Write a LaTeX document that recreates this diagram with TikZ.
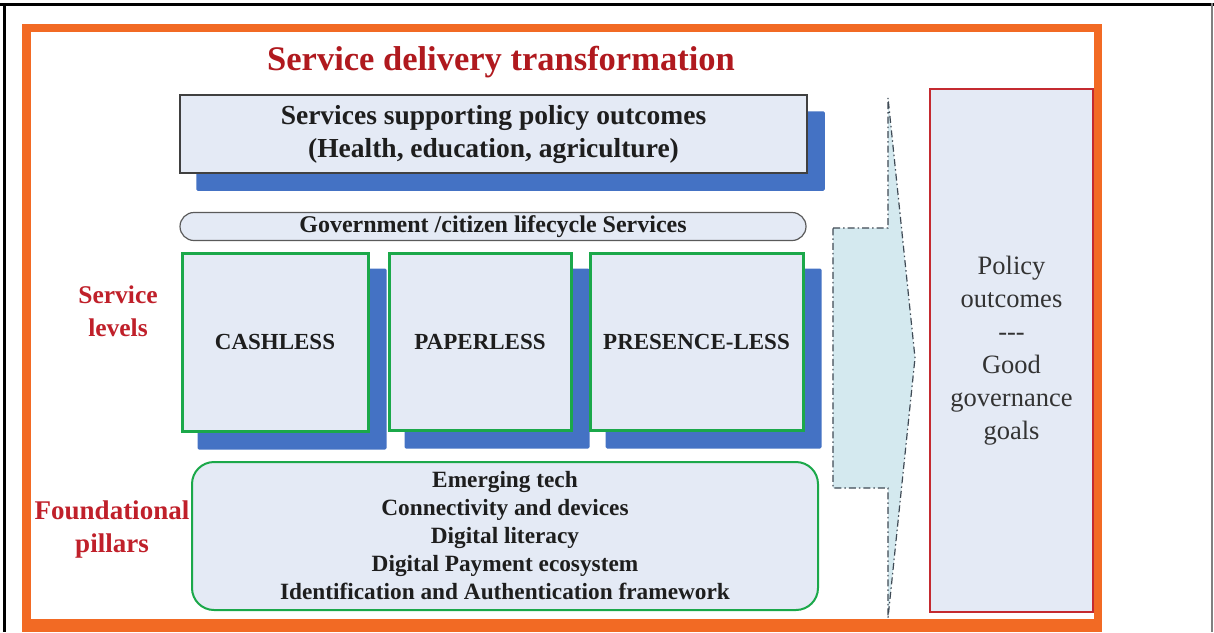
\documentclass[tikz,border=0pt]{standalone}
\usepackage{fontspec}
\setmainfont{Liberation Serif}
\definecolor{orng}{HTML}{F26A24}
\definecolor{boxfill}{HTML}{E4EAF5}
\definecolor{shblue}{HTML}{4472C4}
\definecolor{grn}{HTML}{1BA84A}
\definecolor{ttl}{HTML}{B0191E}
\definecolor{lbl}{HTML}{C0202A}
\definecolor{arrfill}{HTML}{D4E9EF}
\definecolor{arrline}{HTML}{3F4A55}
\definecolor{redb}{HTML}{C42A30}
\definecolor{txt}{HTML}{1E1E1E}
\definecolor{topline}{HTML}{404040}
\definecolor{pillline}{HTML}{5A5A5A}
\pgfdeclarelayer{back}
\pgfdeclarelayer{bg}
\pgfsetlayers{back,bg,main}
\tikzset{
  box/.style={fill=boxfill, inner sep=0pt, text=txt, align=center},
  lvlbox/.style={box, draw=grn, line width=3pt, font=\bfseries\fontsize{23}{28}\selectfont},
  redlabel/.style={text=lbl, align=center, inner sep=0pt},
  shadowfill/.style={fill=shblue, rounded corners=1.5pt},
}
\begin{document}
\begin{tikzpicture}[x=1pt,y=-1pt]
\useasboundingbox (0,0) rectangle (1214,632);
\begin{pgfonlayer}{back}
\fill[white] (0,0) rectangle (1214,632);
\fill[orng] (22,24) rectangle (1102,632);
\fill[white] (31,32) rectangle (1094,619);
\draw[black, line width=3pt] (0,4.5) -- (1214,4.5);
\draw[black, line width=3pt] (4,3) -- (4,632);
\draw[gray, line width=1.2pt] (1212,3) -- (1212,632);
\end{pgfonlayer}

% title
\node[text=ttl, inner sep=0pt, font=\bfseries\fontsize{34.5}{40}\selectfont] (title) at (501,62) {Service delivery transformation};

% top box
\node[box, draw=topline, line width=1.5pt, minimum width=627pt, minimum height=78pt,
      font=\bfseries\fontsize{27.5}{33}\selectfont] (top) at (493.5,134)
      {Services supporting policy outcomes\\(Health, education, agriculture)};

% pill
\node[box, draw=pillline, line width=1.2pt, rounded corners=14pt, minimum width=626pt, minimum height=28pt,
      font=\bfseries\fontsize{24}{26}\selectfont] (pill) at (493,226.5)
      {Government /citizen lifecycle Services};

% service level boxes
\node[lvlbox, minimum width=186pt, minimum height=178pt] (cash) at (275,342) {CASHLESS};
\node[lvlbox, minimum width=182pt, minimum height=177pt] (paper) at (480,341.5) {PAPERLESS};
\node[lvlbox, minimum width=213pt, minimum height=177pt] (pres) at (696.5,341.5) {PRESENCE-LESS};

% foundational pillars box
\node[box, draw=grn, line width=2pt, rounded corners=22pt, minimum width=626pt, minimum height=148pt,
      font=\bfseries\fontsize{23.3}{28}\selectfont] (found) at (505,536)
      {Emerging tech\\Connectivity and devices\\Digital literacy\\Digital Payment ecosystem\\Identification and Authentication framework};

% shadows
\begin{pgfonlayer}{bg}
\foreach \n in {top,cash,paper,pres}{
  \fill[shadowfill] ([xshift=17pt,yshift=-17pt]\n.south west) rectangle ([xshift=17pt,yshift=-17pt]\n.north east);
}
\end{pgfonlayer}

% side labels
\node[redlabel, font=\bfseries\fontsize{25.5}{33}\selectfont] (sl) at (118,311) {Service\\levels};
\node[redlabel, font=\bfseries\fontsize{27}{33}\selectfont] (fp) at (112,529) {Foundational\\pillars};

% arrow shape
\coordinate (a1) at (833,228);
\coordinate (a2) at (888,228);
\coordinate (a3) at (888,98);
\coordinate (a4) at (915,358);
\coordinate (a5) at (888,618);
\coordinate (a6) at (888,488);
\coordinate (a7) at (833,488);
\fill[arrfill] (a1) -- (a2) -- (a3) -- (a4) -- (a5) -- (a6) -- (a7) -- cycle;
\draw[arrline, line width=1.2pt, dash pattern=on 7pt off 3pt on 1.5pt off 3pt]
  (a1) -- (a2) -- (a3) -- (a4) -- (a5) -- (a6) -- (a7) -- cycle;

% outcome box
\node[box, draw=redb, line width=2.5pt, minimum width=163pt, minimum height=523pt, text=black!80,
      font=\fontsize{26.5}{33}\selectfont] (out) at (1011.5,350.5)
      {Policy\\outcomes\\{-}{-}{-}\\Good\\governance\\goals};
\end{tikzpicture}
\end{document}
